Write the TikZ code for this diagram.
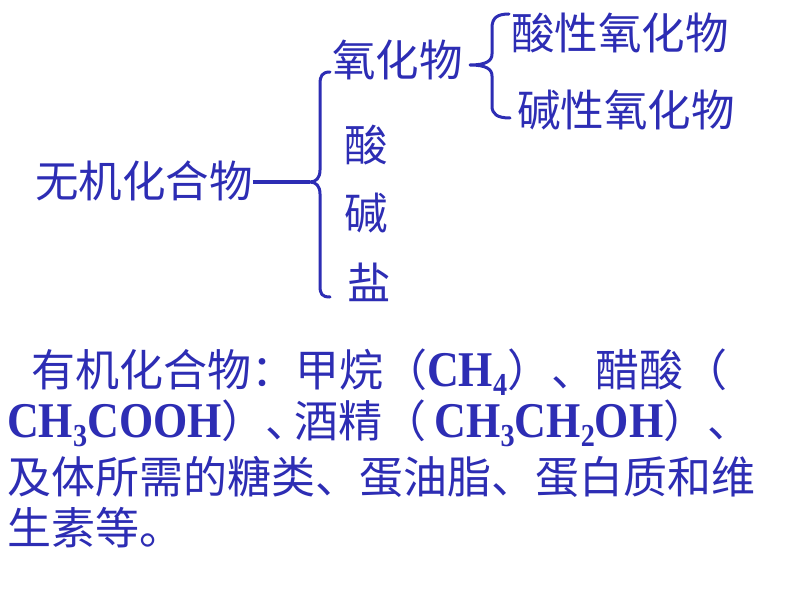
\documentclass[tikz,border=0pt]{standalone}
\usepackage{fontspec}
\newfontfamily\cjk{Noto Sans CJK SC}
\newfontfamily\latin[FakeStretch=0.88]{Liberation Serif}
\definecolor{ink}{RGB}{45,45,180}
\newcommand{\subsc}[1]{\raisebox{-9pt}[0pt][0pt]{\fontsize{32}{32}\selectfont #1}}
\newcommand{\chem}[1]{{\latin\bfseries\fontsize{50}{50}\selectfont #1}}
\begin{document}
\begin{tikzpicture}[x=1pt,y=-1pt,
  lbl/.style={anchor=base west,inner sep=0pt,text=ink,font=\cjk\fontsize{43.5}{43.5}\selectfont},
  txt/.style={anchor=base west,inner sep=0pt,text=ink,font=\cjk\fontsize{44}{44}\selectfont},
  brace/.style={draw=ink,line width=3pt,line cap=round,line join=round}]
\useasboundingbox[fill=white] (0,0) rectangle (794,596);
% top tree
\node[lbl] (root) at (35,197) {无机化合物};
\node[lbl] (oxide) at (332,77) {氧化物};
\node[lbl] (acidox) at (511,50) {酸性氧化物};
\node[lbl] (baseox) at (517,127) {碱性氧化物};
\node[lbl] (acid) at (344,162) {酸};
\node[lbl] (base) at (344,229) {碱};
\node[lbl] (salt) at (347,299) {盐};
\coordinate (cusp) at (310,182);
\coordinate (cusp2) at (470,65);
\draw[draw=ink,line width=4pt] (root.east |- cusp) -- (cusp);
\draw[brace] (330,72) .. controls (322,72) and (320,76) .. (320,84)
  -- (320,170) .. controls (320,178) and (316,182) .. (cusp)
  .. controls (316,182) and (320,186) .. (320,194)
  -- (320,286) .. controls (320,294) and (322,297) .. (330,297);
\draw[brace] (509,14) .. controls (497,14) and (492,18) .. (492,28)
  -- (492,54) .. controls (492,61) and (486,65) .. (cusp2)
  .. controls (486,65) and (492,69) .. (492,76)
  -- (492,106) .. controls (492,114) and (497,118) .. (510,118);
% bottom text
\node[txt] (l1) at (31,386) {有机化合物：甲烷（\chem{CH\subsc{4}}）、醋酸（};
\node[txt] (l2) at (7,437) {\chem{CH\subsc{3}COOH}）、\hspace{-15pt}酒精（\hspace{8pt}\chem{CH\subsc{3}CH\subsc{2}OH}）、};
\node[txt] (l3) at (7,493) {及体所需的糖类、蛋油脂、蛋白质和维};
\node[txt] (l4) at (7,544) {生素等。};
\end{tikzpicture}
\end{document}
